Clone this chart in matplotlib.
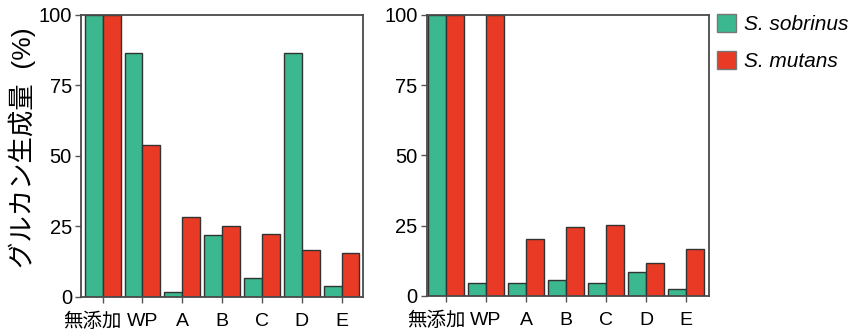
import numpy as np
import matplotlib.pyplot as plt
from matplotlib.patches import Patch
from matplotlib.transforms import ScaledTranslation

plt.rcParams['font.family'] = ['Liberation Sans', 'Noto Sans CJK JP']

categories = ["無添加", "WP", "A", "B", "C", "D", "E"]
series = ["S. sobrinus", "S. mutans"]

# glucan production (%), left panel
left_sobrinus = [100, 86.4, 1.6, 22.1, 6.9, 86.7, 3.8]
left_mutans = [100, 53.9, 28.3, 25.1, 22.5, 16.6, 15.6]

# glucan production (%), right panel
right_sobrinus = [100, 4.5, 4.5, 5.6, 4.5, 8.5, 2.6]
right_mutans = [100, 100, 20.4, 24.6, 25.1, 11.8, 16.6]

GREEN = "#3bb88f"
RED = "#e83a24"
EDGE = "#333333"


def draw_panel(ax, green_vals, red_vals, width, xlim, first_shift):
    x = np.arange(len(categories))
    ax.bar(x - width / 2, green_vals, width, color=GREEN, edgecolor=EDGE, linewidth=1.0)
    ax.bar(x + width / 2, red_vals, width, color=RED, edgecolor=EDGE, linewidth=1.0)
    ax.set_xlim(*xlim)
    ax.set_ylim(0, 100)
    ax.set_xticks(x)
    ax.set_xticklabels(categories, fontsize=14)
    ax.set_yticks([0, 25, 50, 75, 100])
    ax.tick_params(axis='y', labelsize=14.5, length=4.5, width=1.0, color="#555555", pad=2)
    ax.tick_params(axis='x', length=4.5, width=1.0, color="#555555", pad=7)
    for sp in ax.spines.values():
        sp.set_color("#4a4a4a")
        sp.set_linewidth(1.3)
    # nudge the long Japanese label left so it clears "WP"
    lbl = ax.get_xticklabels()[0]
    lbl.set_transform(lbl.get_transform() + ScaledTranslation(-first_shift / 100, 0, fig.dpi_scale_trans))


fig = plt.figure(figsize=(8.68, 3.34), dpi=100)
ax1 = fig.add_axes([0.0933, 0.1108, 0.3249, 0.8443])
ax2 = fig.add_axes([0.4916, 0.1138, 0.3256, 0.8420])

draw_panel(ax1, left_sobrinus, left_mutans, 0.45, (-0.545, 6.54), 10.5)
draw_panel(ax2, right_sobrinus, right_mutans, 0.44, (-0.48, 6.58), 9)

ax1.set_ylabel("グルカン生成量  (%)", fontsize=19)
ax1.yaxis.set_label_coords(-0.16, 0.53)

handles = [Patch(facecolor=GREEN, edgecolor="#777777"), Patch(facecolor=RED, edgecolor="#777777")]
leg = fig.legend(handles, series, loc='upper left', bbox_to_anchor=(0.8257, 0.958),
                 frameon=False, fontsize=15, handlelength=0.95, handleheight=0.95,
                 handletextpad=0.35, labelspacing=0.82, borderpad=0, borderaxespad=0)
for t in leg.get_texts():
    t.set_fontstyle('italic')

fig.savefig("out.png", dpi=100)
